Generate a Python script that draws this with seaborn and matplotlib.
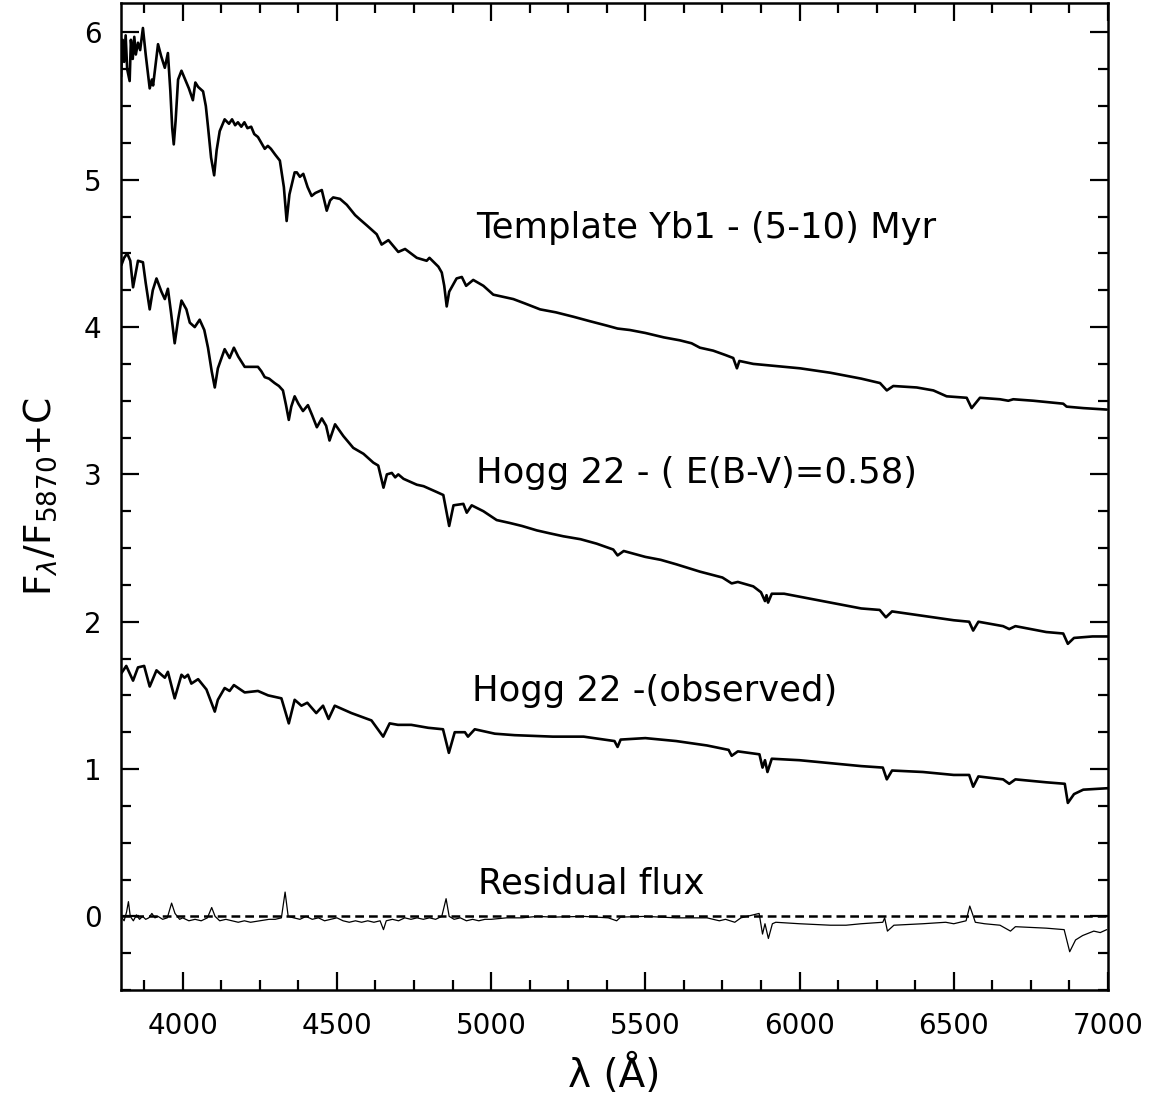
import matplotlib
matplotlib.use("Agg")
import matplotlib.pyplot as plt
import seaborn as sns
import pandas as pd
from matplotlib.ticker import MultipleLocator

# Template Yb1 (5-10 Myr)
tmpl_wl = [3800, 3805, 3810, 3815, 3820, 3828, 3832, 3838, 3843, 3848, 3855, 3862, 3871,
           3880, 3893, 3900, 3904, 3920, 3930, 3942, 3952, 3960, 3966, 3971, 3977, 3985,
           3996, 4012, 4020, 4033, 4041, 4050, 4066, 4075, 4082, 4092, 4102, 4110, 4120,
           4136, 4150, 4160, 4170, 4179, 4190, 4200, 4210, 4222, 4232, 4244, 4255, 4266,
           4276, 4286, 4300, 4315, 4328, 4337, 4346, 4363, 4370, 4380, 4391, 4405, 4418,
           4430, 4451, 4467, 4478, 4488, 4510, 4532, 4559, 4575, 4597, 4629, 4645, 4667,
           4683, 4699, 4721, 4759, 4791, 4800, 4829, 4840, 4848, 4856, 4864, 4872, 4888,
           4905, 4919, 4942, 4975, 5007, 5029, 5072, 5110, 5159, 5210, 5267, 5320, 5375,
           5410, 5450, 5500, 5560, 5612, 5650, 5677, 5720, 5760, 5785, 5797, 5805, 5850,
           5900, 6002, 6100, 6200, 6240, 6261, 6283, 6304, 6380, 6434, 6477, 6542, 6558,
           6585, 6650, 6677, 6693, 6758, 6855, 6866, 6920, 6996]
tmpl_fx = [5.70, 5.95, 5.80, 5.98, 5.75, 5.67, 5.95, 5.82, 5.97, 5.85, 5.93, 5.88, 6.03,
           5.85, 5.62, 5.68, 5.64, 5.92, 5.84, 5.76, 5.86, 5.60, 5.35, 5.24, 5.40, 5.68,
           5.74, 5.66, 5.62, 5.54, 5.66, 5.63, 5.60, 5.50, 5.36, 5.15, 5.03, 5.20, 5.33,
           5.41, 5.38, 5.41, 5.37, 5.39, 5.36, 5.39, 5.35, 5.36, 5.31, 5.29, 5.25, 5.21,
           5.23, 5.21, 5.17, 5.13, 4.95, 4.72, 4.90, 5.05, 5.05, 5.02, 5.04, 4.95, 4.89,
           4.91, 4.93, 4.79, 4.86, 4.88, 4.87, 4.83, 4.76, 4.73, 4.69, 4.63, 4.56, 4.59,
           4.55, 4.51, 4.53, 4.47, 4.45, 4.47, 4.41, 4.37, 4.28, 4.14, 4.24, 4.27, 4.33,
           4.34, 4.28, 4.32, 4.28, 4.22, 4.21, 4.19, 4.16, 4.12, 4.10, 4.07, 4.04, 4.01,
           3.99, 3.98, 3.96, 3.93, 3.91, 3.89, 3.86, 3.84, 3.81, 3.79, 3.72, 3.77, 3.75,
           3.74, 3.72, 3.69, 3.65, 3.63, 3.62, 3.57, 3.60, 3.59, 3.57, 3.53, 3.52, 3.45,
           3.52, 3.51, 3.50, 3.51, 3.50, 3.48, 3.46, 3.45, 3.44]

# Hogg 22 dereddened, E(B-V)=0.58
dered_wl = [3801, 3810, 3820, 3830, 3839, 3855, 3871, 3880, 3893, 3903, 3915, 3931, 3942,
            3952, 3962, 3974, 3985, 3996, 4012, 4023, 4039, 4055, 4070, 4082, 4094, 4104,
            4114, 4136, 4152, 4166, 4180, 4201, 4220, 4244, 4255, 4266, 4280, 4298, 4312,
            4325, 4335, 4344, 4352, 4363, 4375, 4390, 4406, 4420, 4435, 4451, 4465, 4476,
            4494, 4521, 4553, 4586, 4618, 4634, 4651, 4662, 4678, 4689, 4699, 4716, 4759,
            4781, 4824, 4845, 4864, 4878, 4910, 4921, 4937, 4975, 5018, 5061, 5100, 5148,
            5190, 5234, 5290, 5342, 5396, 5410, 5430, 5500, 5550, 5600, 5677, 5750, 5780,
            5800, 5850, 5875, 5888, 5893, 5898, 5910, 5950, 6000, 6100, 6200, 6260, 6280,
            6300, 6400, 6500, 6550, 6563, 6580, 6660, 6680, 6700, 6800, 6855, 6870, 6890,
            6950, 7000]
dered_fx = [4.42, 4.47, 4.50, 4.45, 4.27, 4.45, 4.44, 4.30, 4.12, 4.25, 4.33, 4.24, 4.19,
            4.26, 4.10, 3.89, 4.05, 4.18, 4.12, 4.03, 4.00, 4.05, 3.98, 3.86, 3.70, 3.59,
            3.72, 3.85, 3.79, 3.86, 3.80, 3.73, 3.73, 3.73, 3.70, 3.66, 3.65, 3.62, 3.60,
            3.57, 3.47, 3.37, 3.46, 3.53, 3.48, 3.43, 3.47, 3.40, 3.32, 3.38, 3.33, 3.23,
            3.34, 3.26, 3.18, 3.14, 3.08, 3.06, 2.91, 3.00, 3.01, 2.98, 3.00, 2.97, 2.93,
            2.92, 2.88, 2.86, 2.65, 2.79, 2.80, 2.74, 2.79, 2.75, 2.69, 2.67, 2.65, 2.62,
            2.60, 2.58, 2.56, 2.53, 2.49, 2.45, 2.48, 2.44, 2.42, 2.39, 2.34, 2.30, 2.26,
            2.27, 2.24, 2.20, 2.14, 2.18, 2.13, 2.19, 2.19, 2.17, 2.13, 2.09, 2.08, 2.03,
            2.07, 2.04, 2.01, 2.00, 1.94, 2.00, 1.97, 1.95, 1.97, 1.93, 1.92, 1.85, 1.89,
            1.90, 1.90]

# Hogg 22 observed
obs_wl = [3801, 3817, 3839, 3855, 3875, 3893, 3915, 3931, 3942, 3952, 3974, 3996, 4006,
          4017, 4028, 4050, 4077, 4104, 4114, 4136, 4152, 4166, 4201, 4244, 4277, 4320,
          4344, 4363, 4385, 4404, 4433, 4455, 4473, 4493, 4547, 4612, 4650, 4671, 4698,
          4741, 4796, 4844, 4863, 4882, 4915, 4925, 4947, 5012, 5076, 5200, 5300, 5400,
          5410, 5420, 5500, 5600, 5700, 5770, 5780, 5800, 5870, 5880, 5888, 5896, 5910,
          6000, 6100, 6200, 6270, 6283, 6300, 6400, 6500, 6550, 6563, 6580, 6660, 6680,
          6700, 6800, 6860, 6870, 6890, 6920, 7000]
obs_fx = [1.65, 1.70, 1.60, 1.69, 1.70, 1.56, 1.67, 1.64, 1.62, 1.66, 1.48, 1.64, 1.62,
          1.64, 1.58, 1.61, 1.54, 1.39, 1.47, 1.55, 1.53, 1.57, 1.52, 1.53, 1.50, 1.48,
          1.31, 1.47, 1.43, 1.45, 1.38, 1.43, 1.34, 1.43, 1.38, 1.33, 1.22, 1.31, 1.30,
          1.30, 1.28, 1.27, 1.11, 1.25, 1.25, 1.22, 1.27, 1.24, 1.23, 1.22, 1.22, 1.19,
          1.15, 1.20, 1.21, 1.19, 1.16, 1.13, 1.09, 1.12, 1.10, 1.01, 1.06, 0.98, 1.07,
          1.06, 1.04, 1.02, 1.01, 0.93, 0.99, 0.98, 0.96, 0.96, 0.88, 0.95, 0.93, 0.90,
          0.93, 0.91, 0.90, 0.77, 0.83, 0.86, 0.87]

# residual flux
res_wl = [3800, 3810, 3818, 3824, 3830, 3840, 3850, 3860, 3870, 3880, 3890, 3900, 3910,
          3920, 3935, 3950, 3964, 3975, 3990, 4000, 4020, 4040, 4060, 4080, 4094, 4105,
          4120, 4140, 4160, 4180, 4200, 4220, 4250, 4280, 4300, 4320, 4332, 4342, 4360,
          4380, 4400, 4420, 4440, 4460, 4480, 4500, 4520, 4540, 4560, 4580, 4600, 4620,
          4640, 4651, 4660, 4680, 4700, 4720, 4740, 4760, 4780, 4800, 4820, 4840, 4854,
          4864, 4880, 4900, 4920, 4940, 4960, 4980, 5000, 5050, 5100, 5150, 5200, 5300,
          5380, 5407, 5420, 5500, 5600, 5700, 5740, 5760, 5790, 5810, 5869, 5880, 5888,
          5899, 5912, 5923, 6000, 6100, 6151, 6200, 6270, 6276, 6285, 6306, 6400, 6474,
          6500, 6540, 6552, 6562, 6570, 6600, 6650, 6684, 6700, 6800, 6858, 6876, 6895,
          6918, 6954, 6975, 6996]
res_fx = [0.00, -0.03, 0.03, 0.10, 0.00, -0.03, 0.01, -0.02, 0.00, -0.02, -0.01, 0.02, -0.01,
          0.00, -0.02, -0.01, 0.09, 0.02, -0.02, -0.01, -0.03, -0.02, -0.03, -0.01, 0.06, 0.00,
          -0.03, -0.02, -0.03, -0.04, -0.03, -0.04, -0.03, -0.02, -0.02, -0.01, 0.165, 0.00, -0.01,
          -0.02, 0.00, -0.02, -0.01, -0.03, -0.02, -0.01, -0.03, -0.04, -0.03, -0.04, -0.03, -0.04,
          -0.03, -0.09, -0.03, -0.02, -0.03, -0.01, -0.02, -0.01, -0.02, -0.01, -0.02, 0.00, 0.12,
          0.00, -0.02, -0.01, -0.03, -0.02, -0.03, -0.02, -0.02, -0.01, -0.01, 0.00, -0.005, 0.00,
          -0.01, -0.03, -0.005, 0.00, -0.01, -0.01, -0.03, -0.02, -0.04, -0.01, 0.02, -0.12, -0.05,
          -0.15, -0.05, -0.04, -0.05, -0.06, -0.06, -0.05, -0.04, -0.01, -0.10, -0.06, -0.05, -0.04,
          -0.05, -0.03, 0.07, 0.01, -0.04, -0.05, -0.06, -0.10, -0.07, -0.08, -0.09, -0.24, -0.16,
          -0.13, -0.10, -0.11, -0.09]

zero_level = 0.0
labels = ["Template Yb1 - (5-10) Myr", "Hogg 22 - ( E(B-V)=0.58)",
          "Hogg 22 -(observed)", "Residual flux"]
label_x = [4950, 4950, 4938, 4958]
label_y = [4.67, 3.01, 1.53, 0.22]

sns.set_style("ticks")
plt.rcParams['font.family'] = ['DejaVu Sans']
plt.rcParams['mathtext.fontset'] = 'dejavusans'
plt.rcParams['text.color'] = 'black'
plt.rcParams['axes.labelcolor'] = 'black'
plt.rcParams['xtick.color'] = 'black'
plt.rcParams['ytick.color'] = 'black'
plt.rcParams['axes.edgecolor'] = 'black'

fig = plt.figure(figsize=(11.57, 10.93), dpi=100)
ax = fig.add_axes([0.1046, 0.0942, 0.853, 0.9031])

for wl, fx in [(tmpl_wl, tmpl_fx), (dered_wl, dered_fx), (obs_wl, obs_fx)]:
    df = pd.DataFrame({'wl': wl, 'flux': fx})
    sns.lineplot(data=df, x='wl', y='flux', ax=ax, color='black', lw=1.9,
                 estimator=None, sort=False)

df_res = pd.DataFrame({'wl': res_wl, 'flux': res_fx})
sns.lineplot(data=df_res, x='wl', y='flux', ax=ax, color='black', lw=0.9,
             estimator=None, sort=False)
ax.axhline(zero_level, color='black', lw=1.8, ls=(0, (3.5, 2)))

for txt, xx, yy in zip(labels, label_x, label_y):
    ax.text(xx, yy, txt, fontsize=25.5, va='center', ha='left', color='black')

ax.set_xlim(3800, 7000)
ax.set_ylim(-0.5, 6.2)
ax.xaxis.set_major_locator(MultipleLocator(500))
ax.xaxis.set_minor_locator(MultipleLocator(125))
ax.yaxis.set_major_locator(MultipleLocator(1))
ax.yaxis.set_minor_locator(MultipleLocator(0.25))
ax.tick_params(which='both', direction='in', top=True, right=True, width=1.6,
               labelsize=20)
ax.tick_params(axis='x', which='major', pad=16)
ax.tick_params(axis='y', which='major', pad=14)
ax.tick_params(which='major', length=13)
ax.tick_params(which='minor', length=7)
for sp in ax.spines.values():
    sp.set_linewidth(1.8)

ax.set_xlabel('λ (Å)', fontsize=28, labelpad=10)
ax.set_ylabel(r'F$_{\lambda}$/F$_{5870}$+C', fontsize=27, labelpad=18)

fig.savefig('out.png', dpi=100)
